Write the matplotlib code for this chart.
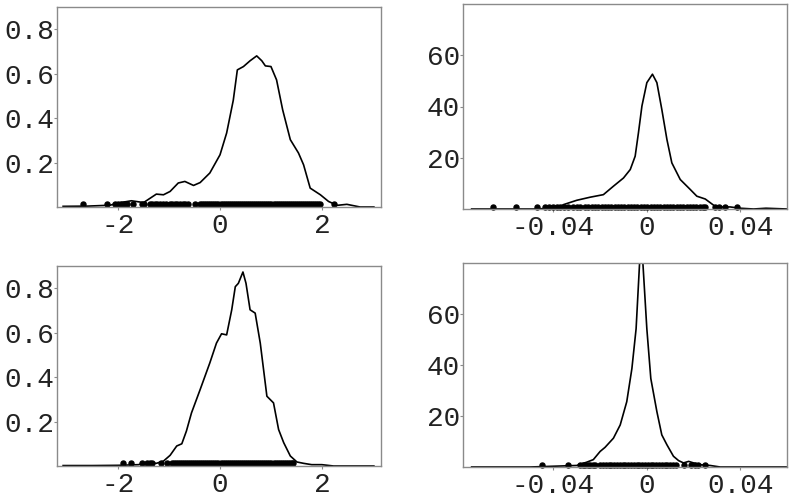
import matplotlib.pyplot as plt
import numpy as np

plt.rcParams['font.family'] = ['Liberation Mono', 'DejaVu Sans Mono']

#density curves, top left panel
x1 = [-3.08,-2.6,-2.16,-1.95,-1.74,-1.5,-1.25,-1.11,-0.98,-0.82,-0.69,-0.52,-0.39,-0.2,0.0,0.13,0.26,0.34,0.46,0.59,0.72,0.82,0.89,1.0,1.11,1.23,1.38,1.54,1.64,1.77,1.97,2.13,2.3,2.49,2.75,3.02]
y1 = [0.003,0.004,0.008,0.02,0.028,0.02,0.058,0.055,0.07,0.108,0.115,0.097,0.11,0.153,0.235,0.333,0.48,0.617,0.632,0.658,0.68,0.658,0.635,0.632,0.572,0.437,0.303,0.243,0.19,0.085,0.055,0.025,0.0075,0.012,0.0,0.0]
rug1 = [-2.68,-2.21,-2.07,-2.0,-1.95,-1.89,-1.82,-1.7,-1.54,-1.5,-1.38,-1.33,-1.28,-1.23,-1.17,-1.12,-1.07,-0.99,-0.94,-0.89,-0.84,-0.78,-0.73,-0.68,-0.63,-0.5,
        -0.39,-0.35,-0.31,-0.27,-0.23,-0.19,-0.15,-0.11,-0.07,-0.03,0.01,0.05,0.09,0.13,0.17,0.21,0.25,0.29,0.33,0.37,0.41,0.45,0.49,0.53,0.57,0.61,0.65,0.69,
        0.73,0.77,0.81,0.85,0.89,0.93,0.97,1.01,1.05,1.09,1.13,1.17,1.21,1.25,1.29,1.33,1.37,1.41,1.45,1.49,1.53,1.57,1.61,1.65,1.69,1.73,1.77,1.81,1.85,1.89,1.93,1.97,2.23]

#top right panel
x2 = [-0.075,-0.06,-0.0486,-0.0386,-0.0357,-0.03,-0.0243,-0.0186,-0.0143,-0.01,-0.0071,-0.005,-0.0036,-0.0021,0.0,0.0024,0.0043,0.0064,0.0086,0.0107,0.0143,0.0186,0.0214,0.025,0.0293,0.032,0.0357,0.04,0.0457,0.051,0.06]
y2 = [0.0,0.0,0.0,0.3,1.7,3.4,4.6,5.6,8.9,12.1,15.4,20.6,29.7,40.2,49.3,52.6,49.3,38.9,27.1,18.0,11.5,7.6,5.0,3.9,1.0,0.8,0.8,0.3,0.0,0.3,0.0]
rug2 = [-0.066,-0.056,-0.047,-0.0436,-0.0417,-0.04,-0.0386,-0.0371,-0.0353,-0.0336,-0.0314,-0.03,-0.0286,-0.0264,-0.025,-0.0236,-0.0222,-0.0208,-0.0194,-0.018,
        -0.0166,-0.0152,-0.0138,-0.0124,-0.011,-0.0096,-0.0082,-0.0068,-0.0054,-0.004,-0.0026,-0.0012,0.0002,0.0016,0.003,0.0044,0.0058,0.0072,0.0086,0.01,
        0.0114,0.0128,0.0142,0.0156,0.017,0.0184,0.0198,0.0212,0.0226,0.024,0.025,0.0293,0.0307,0.0336,0.0386]

#bottom left panel
x3 = [-3.08,-2.5,-2.0,-1.6,-1.44,-1.25,-1.11,-0.98,-0.85,-0.75,-0.66,-0.56,-0.39,-0.2,-0.07,0.03,0.13,0.23,0.3,0.36,0.45,0.51,0.59,0.69,0.79,0.92,1.05,1.15,1.25,1.38,1.51,1.64,1.8,2.0,2.23,3.02]
y3 = [0.002,0.002,0.003,0.006,0.015,0.012,0.022,0.048,0.09,0.1,0.157,0.239,0.344,0.464,0.553,0.595,0.59,0.703,0.807,0.822,0.873,0.822,0.703,0.688,0.553,0.314,0.284,0.164,0.105,0.045,0.018,0.012,0.006,0.006,0.0,0.0]
rug3 = [-1.9,-1.75,-1.54,-1.43,-1.37,-1.33,-1.15,-1.05,-0.95,-0.91,-0.87,-0.83,-0.79,-0.75,-0.71,-0.67,-0.63,-0.59,-0.55,-0.51,-0.47,-0.43,-0.39,-0.35,
        -0.31,-0.27,-0.23,-0.19,-0.15,-0.11,-0.07,-0.03,0.01,0.05,0.09,0.13,0.17,0.21,0.25,0.29,0.33,0.37,0.41,0.45,0.49,0.53,0.57,0.61,0.65,0.69,0.73,
        0.77,0.81,0.85,0.89,0.93,0.97,1.01,1.05,1.09,1.13,1.17,1.21,1.25,1.29,1.33,1.37,1.41,1.44]

#bottom right panel, peak runs off the top
x4 = [-0.075,-0.05,-0.03,-0.0257,-0.0229,-0.02,-0.0179,-0.0143,-0.0114,-0.0086,-0.0064,-0.0046,-0.0031,-0.0024,-0.0017,0.0,0.0017,0.0043,0.0064,0.0086,0.0114,0.0136,0.0157,0.0179,0.02,0.0229,0.0271,0.0314,0.06]
y4 = [0.0,0.0,0.6,1.9,2.9,6.1,7.7,11.3,16.5,25.6,38.6,54.2,80.1,92.0,80.1,54.2,34.7,21.7,12.6,8.7,4.2,2.5,1.6,2.2,1.6,0.9,0.6,0.0,0.0]
rug4 = [-0.0447,-0.0336,-0.0286,-0.0274,-0.0264,-0.0253,-0.0243,-0.0232,-0.022,-0.02,-0.0188,-0.0176,-0.0164,-0.0152,-0.014,-0.0128,-0.0116,-0.0104,
        -0.0092,-0.008,-0.0068,-0.0056,-0.0044,-0.0032,-0.002,-0.0008,0.0004,0.0016,0.0028,0.004,0.0052,0.0064,0.0076,0.0088,0.01,0.0112,0.0126,
        0.0157,0.019,0.0207,0.0221,0.025]

framecolor = "#8a8a8a"
W, H = 800, 499

def panel(fig, box, x, y, rug, rugy, xlim, ylim, xticks, xlabels, yticks, ylabels):
  #box is left, top, right, bottom in pixels
  l, t, r, b = box
  ax = fig.add_axes([l/W, 1-b/H, (r-l)/W, (b-t)/H])
  ax.plot(x, y, color="black", linewidth=1.2)
  ax.plot(rug, [rugy]*len(rug), linestyle="none", marker="o", markersize=3.6, color="black", clip_on=False)
  ax.set_xlim(xlim)
  ax.set_ylim(ylim)
  ax.set_xticks(xticks)
  ax.set_xticklabels(xlabels)
  ax.set_yticks(yticks)
  ax.set_yticklabels(ylabels)
  for s in ax.spines.values():
    s.set_color(framecolor)
    s.set_linewidth(1.0)
  ax.tick_params(axis="both", length=2, width=0.8, color=framecolor, labelsize=20, labelcolor="#222222")
  ax.tick_params(axis="x", pad=2)
  ax.tick_params(axis="y", pad=0)
  return ax

fig = plt.figure(figsize=(8, 4.99), dpi=100)
panel(fig, (57, 7, 381, 207), x1, y1, rug1, 0.015, (-3.2, 3.16), (0, 0.9),
      [-2, 0, 2], ["-2", "0", "2"], [0.2, 0.4, 0.6, 0.8], ["0.2", "0.4", "0.6", "0.8"])
panel(fig, (463, 4, 787, 209), x2, y2, rug2, 0.8, (-0.0787, 0.06), (0, 80),
      [-0.04, 0, 0.04], ["-0.04", "0", "0.04"], [20, 40, 60], ["20", "40", "60"])
panel(fig, (57, 266, 381, 466), x3, y3, rug3, 0.015, (-3.2, 3.16), (0, 0.9),
      [-2, 0, 2], ["-2", "0", "2"], [0.2, 0.4, 0.6, 0.8], ["0.2", "0.4", "0.6", "0.8"])
panel(fig, (463, 263, 787, 467), x4, y4, rug4, 0.9, (-0.0787, 0.06), (0, 80),
      [-0.04, 0, 0.04], ["-0.04", "0", "0.04"], [20, 40, 60], ["20", "40", "60"])
fig.savefig("out.png", dpi=100)
